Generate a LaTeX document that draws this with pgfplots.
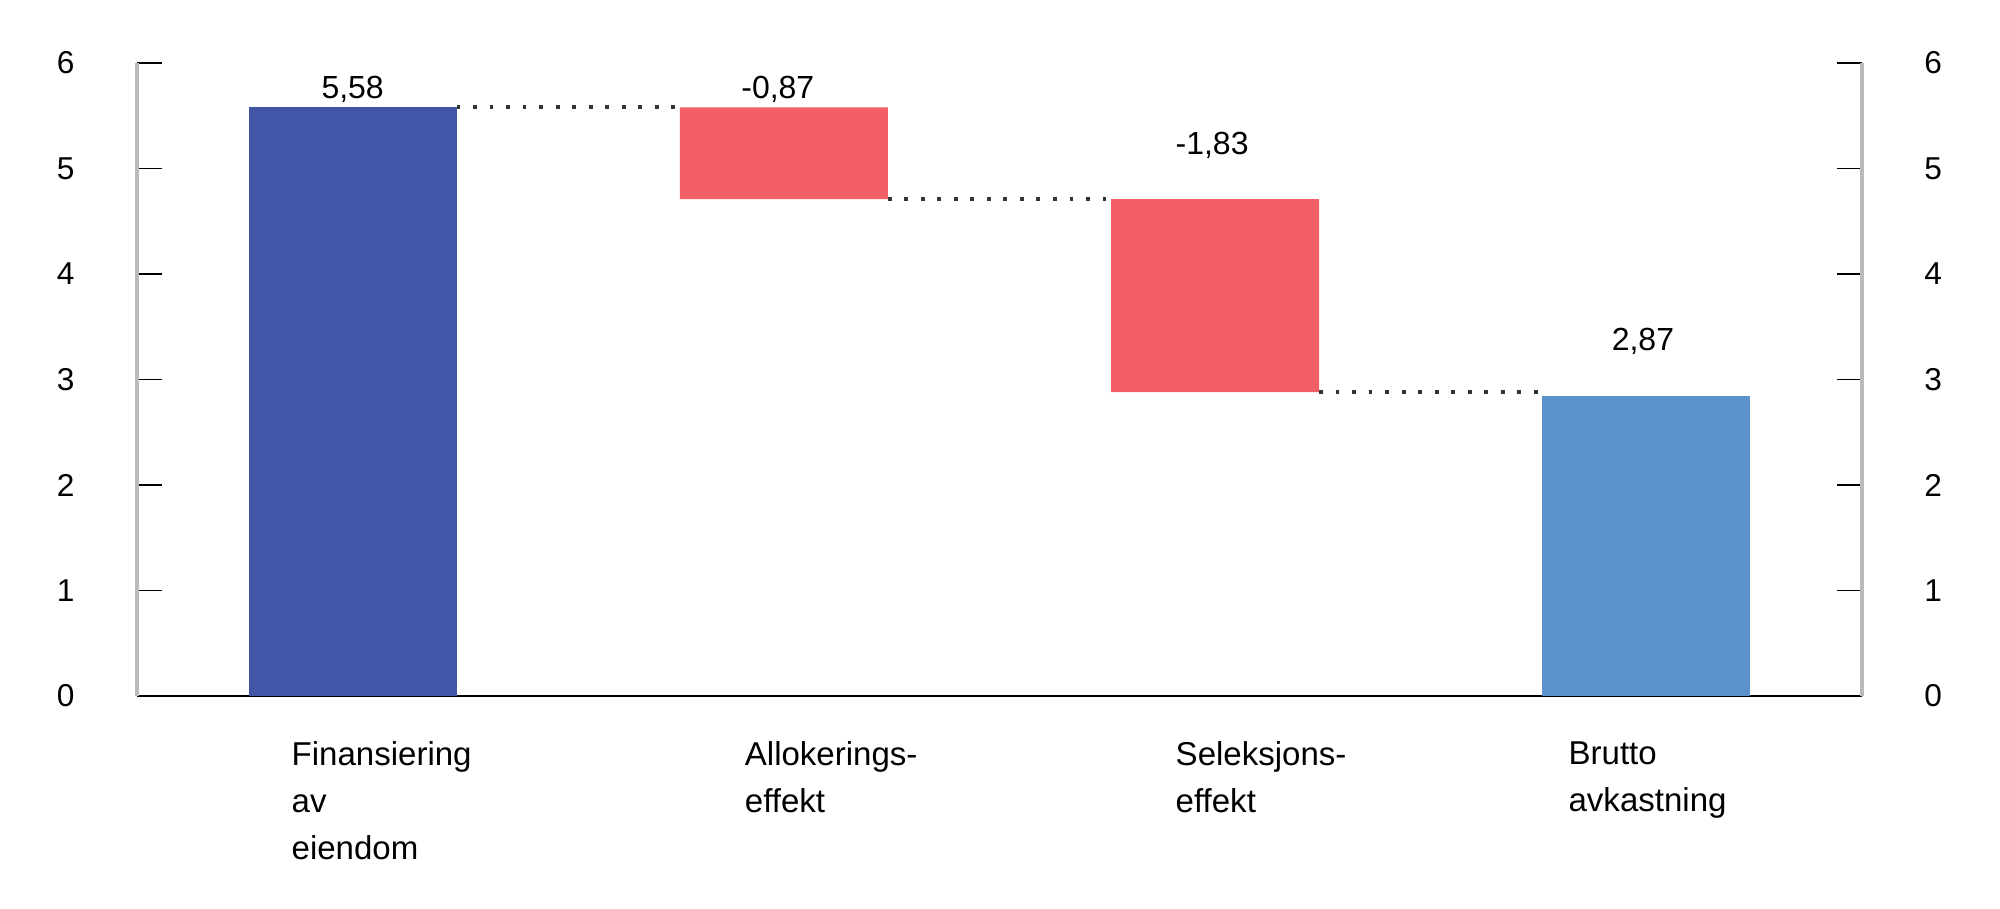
\documentclass[border=0pt]{standalone}
\usepackage{fontspec}
\setmainfont{Liberation Sans}
\usepackage{pgfplots}
\pgfplotsset{compat=1.18}

\definecolor{finblue}{HTML}{4156A6}
\definecolor{effred}{HTML}{F25F64}
\definecolor{brutblue}{HTML}{5B92CC}
\definecolor{axisgrey}{HTML}{BBBBBB}
\definecolor{dotgrey}{HTML}{333333}

\pgfplotsset{
    commonaxis/.style={
        at={(0,0)}, anchor=south west,
        scale only axis,
        width=17.25cm, height=6.33cm,
        xmin=-0.5, xmax=3.5,
        ymin=0, ymax=6,
        ytick={0,1,2,3,4,5,6},
        xtick=\empty,
        major tick length=0.25cm,
        ytick style={black, line width=0.5pt},
        y axis line style={axisgrey, line width=0.9pt, -},
        tick label style={font=\fontsize{9}{11}\selectfont},
        /pgf/number format/assume math mode=true,
    },
}
\tikzset{
    connector/.style={dotgrey, line width=1.1pt, dash pattern=on 1.1pt off 3.6pt},
    vallab/.style={font=\fontsize{9.1}{11}\selectfont, inner sep=0pt},
    catlab/.style={font=\fontsize{9.4}{13.3}\selectfont, inner sep=0pt,
        anchor=north west, align=left, yshift=-0.45cm},
}

\begin{document}
\begin{tikzpicture}
\useasboundingbox (-1.37,-2.12) rectangle (18.63,6.96);

% venstre akse med stolpene
\begin{axis}[
    commonaxis,
    clip=false,
    axis x line*=bottom,
    axis y line*=left,
    ytick align=inside,
    x axis line style={black, line width=0.7pt, -},
    yticklabel style={xshift=-0.5cm},
    ybar stacked,
    bar width=2.08cm,
]
    % usynlig base for de flytende stolpene
    \addplot[draw=none, fill=none] coordinates {(0,0) (1,4.71) (2,2.88) (3,0)};
    \addplot[draw=none, fill=finblue] coordinates {(0,5.58) (1,0) (2,0) (3,0)};
    \addplot[draw=none, fill=effred] coordinates {(0,0) (1,0.87) (2,1.83) (3,0)};
    \addplot[draw=none, fill=brutblue] coordinates {(0,0) (1,0) (2,0) (3,2.84)};

    % stiplede forbindelseslinjer
    \draw[connector] (axis cs:0.241,5.58) -- (axis cs:0.759,5.58);
    \draw[connector] (axis cs:1.241,4.71) -- (axis cs:1.759,4.71);
    \draw[connector] (axis cs:2.241,2.88) -- (axis cs:2.759,2.88);

    % verdietiketter
    \node[vallab] at (axis cs:0,5.75) {5,58};
    \node[vallab] at (axis cs:0.986,5.75) {-0,87};
    \node[vallab] at (axis cs:1.993,5.22) {-1,83};
    \node[vallab] at (axis cs:2.992,3.36) {2,87};

    % kategorinavn
    \node[catlab] at (axis cs:-0.143,0) {Finansiering\\av\\eiendom};
    \node[catlab] at (axis cs:0.908,0) {Allokerings-\\effekt};
    \node[catlab] at (axis cs:1.907,0) {Seleksjons-\\effekt};
    \node[catlab] at (axis cs:2.818,0) {Brutto\\avkastning};
\end{axis}

% hoyre akse
\begin{axis}[
    commonaxis,
    axis x line=none,
    axis y line*=right,
    ytick align=inside,
    yticklabel style={xshift=0.5cm},
]
    \addplot[draw=none, forget plot] coordinates {(0,0) (3,6)};
\end{axis}
\end{tikzpicture}
\end{document}
